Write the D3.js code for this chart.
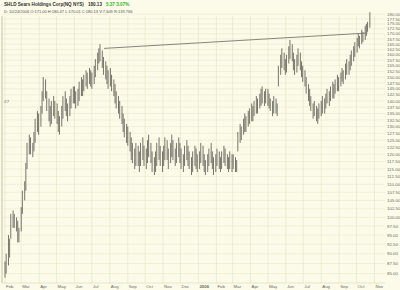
<!DOCTYPE html>
<html>
<head>
<meta charset="utf-8">
<script src="https://cdn.jsdelivr.net/npm/d3@7"></script>
<style>
  body { margin: 0; background: #fcfbea; }
  svg { display: block; font-family: "Liberation Sans", Arial, sans-serif; }
</style>
</head>
<body>
<div id="canvas"></div>
<script>
// SHLD daily range, one bar for every 2nd trading day, Feb 2005 - Oct 24 2006
var highs = [
  // Feb 05
  88, 90, 95, 94, 101, 102, 101, 100, 99, 97,
  // Mar
  103, 108, 111, 117, 124, 127, 126, 124, 128, 133, 136, 135,
  // Apr
  138, 144, 150, 149, 144, 141, 138, 140, 142, 140,
  // May
  139, 136, 134, 138, 142, 144, 141, 139, 142, 145, 146,
  // Jun
  146, 144, 145, 148, 150, 149, 151, 153, 152, 154, 153,
  // Jul
  152, 155, 158, 161, 163, 165, 162, 159, 157, 155, 153,
  // Aug
  154, 151, 149, 147, 144, 142, 140, 138, 135, 133, 131,
  // Sep
  130, 128, 126, 124, 122, 124, 123, 121, 124, 126, 123,
  // Oct
  122, 125, 127, 124, 121, 119, 121, 124, 126, 123, 121,
  // Nov
  123, 126, 125, 122, 124, 127, 125, 122, 124, 126, 124,
  // Dec
  122, 120, 123, 125, 123, 121, 119, 121, 123, 122, 120,
  // Jan 06
  121, 124, 123, 120, 118, 120, 122, 124, 121, 119, 120,
  // Feb
  122, 121, 119, 121, 123, 122, 120, 119, 121, 120,
  // Mar
  120, 119, 118, 128, 131, 130, 133, 135, 134, 136, 137,
  // Apr
  139, 138, 140, 142, 141, 143, 145, 146, 144, 145,
  // May
  145, 143, 141, 140, 142, 141, 139, 155, 160, 163, 161, 158,
  // Jun
  160, 164, 167, 165, 161, 158, 160, 163, 161, 157, 155,
  // Jul
  153, 150, 147, 145, 142, 139, 140, 138, 137, 139,
  // Aug
  140, 142, 141, 143, 145, 144, 146, 148, 147, 149, 151, 150,
  // Sep
  152, 154, 153, 156, 158, 157, 160, 162, 164, 166,
  // Oct
  168, 170, 169, 172, 171, 174, 175, 176, 181
];
var lows = [
  84, 85, 87, 89, 94, 97, 97, 96, 93, 93,
  96, 101, 105, 108, 115, 120, 120, 119, 121, 124, 128, 127,
  130, 135, 140, 141, 136, 132, 130, 131, 134, 133,
  131, 128, 127, 130, 133, 136, 134, 132, 134, 137, 139,
  139, 137, 138, 140, 142, 142, 144, 146, 145, 147, 146,
  145, 147, 150, 153, 156, 157, 154, 151, 149, 147, 145,
  146, 144, 142, 139, 137, 135, 133, 131, 128, 126, 124,
  123, 121, 118, 117, 115, 116, 116, 114, 116, 118, 116,
  115, 117, 119, 117, 114, 113, 114, 116, 118, 116, 114,
  116, 118, 118, 115, 117, 119, 118, 116, 117, 119, 117,
  115, 114, 116, 118, 116, 115, 113, 114, 116, 115, 114,
  115, 117, 116, 114, 113, 114, 116, 117, 115, 113, 114,
  116, 115, 114, 115, 117, 116, 115, 114, 115, 114,
  115, 114, 114, 121, 124, 125, 127, 128, 128, 130, 131,
  132, 132, 134, 135, 135, 137, 138, 139, 138, 139,
  138, 137, 136, 134, 135, 135, 134, 146, 151, 154, 153, 151,
  152, 156, 158, 157, 153, 151, 152, 155, 153, 150, 148,
  146, 143, 140, 138, 136, 133, 134, 132, 131, 133,
  134, 135, 135, 137, 139, 138, 140, 141, 141, 143, 144, 144,
  146, 148, 147, 149, 151, 151, 153, 155, 157, 159,
  161, 164, 163, 165, 166, 167, 169, 171, 173
];

// resistance line drawn on the chart
var trendDates = ["2005-07-22", "2006-10-20"];
var trendValues = [163.0, 170.4];

var monthTicks = ["2005-02-01","2005-03-01","2005-04-01","2005-05-01","2005-06-01","2005-07-01",
  "2005-08-01","2005-09-01","2005-10-01","2005-11-01","2005-12-01","2006-01-01","2006-02-01",
  "2006-03-01","2006-04-01","2006-05-01","2006-06-01","2006-07-01","2006-08-01","2006-09-01",
  "2006-10-01","2006-11-01"];
var monthLabels = ["Feb","Mar","Apr","May","Jun","Jul","Aug","Sep","Oct","Nov","Dec","2006",
  "Feb","Mar","Apr","May","Jun","Jul","Aug","Sep","Oct","Nov"];

var priceTicks = [];
for (var p = 85; p <= 180; p += 2.5) priceTicks.push(p);

var title = "SHLD Sears Holdings Corp(NQ NYS)";
var lastPrice = "180.13";
var change = "5.37  3.07%";
var subtitle = "D: 10/24/2006 O:171.00 H:180.47 L:170.01 C:180.13 V:7,609 R:139.766";

var w = 400, h = 290;
var parse = d3.timeParse("%Y-%m-%d");

// trading days, every second one gets a bar
var days = [];
for (var d = new Date(2005, 1, 1); d <= new Date(2006, 9, 24); d.setDate(d.getDate() + 1)) {
  if (d.getDay() != 0 && d.getDay() != 6) days.push(new Date(d));
}
var bars = [];
for (var i = 0; i < highs.length; i++) {
  bars.push({ date: days[i * 2], hi: highs[i], lo: lows[i] });
}

var plotL = 2, plotR = 385, plotT = 16, plotB = 283;

var x = d3.scaleTime()
  .domain([parse("2005-02-01"), parse("2006-11-01")])
  .range([5, 374.5]);

var y = d3.scaleLog()
  .domain([179, 82.7])
  .range([plotT, plotB]);

var paper = d3.select("#canvas")
  .append("svg")
  .attr("width", w)
  .attr("height", h);

paper.append("rect")
  .attr("width", w).attr("height", h)
  .attr("fill", "#fcfbea");

//grid
paper.selectAll(".hgrid")
  .data(priceTicks)
  .enter().append("line")
  .attr("x1", plotL).attr("x2", plotR)
  .attr("y1", function(d) { return y(d); })
  .attr("y2", function(d) { return y(d); })
  .style("stroke", "#ebe8c9")
  .style("stroke-width", "0.6px");

paper.selectAll(".vgrid")
  .data(monthTicks)
  .enter().append("line")
  .attr("x1", function(d) { return x(parse(d)); })
  .attr("x2", function(d) { return x(parse(d)); })
  .attr("y1", plotT).attr("y2", plotB)
  .style("stroke", "#e8e5c4")
  .style("stroke-width", "0.7px");

paper.append("line")
  .attr("x1", plotL).attr("x2", plotL)
  .attr("y1", plotT).attr("y2", plotB)
  .style("stroke", "#b9b69a").style("stroke-width", "0.8px");

paper.append("line")
  .attr("x1", plotL).attr("x2", plotR)
  .attr("y1", plotB).attr("y2", plotB)
  .style("stroke", "#d9d6b6").style("stroke-width", "0.6px");

//price bars
paper.selectAll(".bar")
  .data(bars)
  .enter().append("line")
  .attr("x1", function(d) { return x(d.date); })
  .attr("x2", function(d) { return x(d.date); })
  .attr("y1", function(d) { return y(d.hi); })
  .attr("y2", function(d) { return y(d.lo); })
  .style("stroke", "#4a4a42")
  .style("stroke-width", "0.75px");

//trend line
paper.append("line")
  .attr("x1", x(parse(trendDates[0])))
  .attr("y1", y(trendValues[0]))
  .attr("x2", x(parse(trendDates[1])))
  .attr("y2", y(trendValues[1]))
  .style("stroke", "#77776c")
  .style("stroke-width", "0.9px");

//right axis labels
paper.selectAll(".ylab")
  .data(priceTicks)
  .enter().append("text")
  .attr("x", 387)
  .attr("y", function(d) { return y(d) + 1.6; })
  .text(function(d) { return d.toFixed(2); })
  .style("font-size", "4.4px")
  .style("fill", "#6b6b60");

//month labels
paper.selectAll(".xlab")
  .data(monthTicks)
  .enter().append("text")
  .attr("x", function(d) { return x(parse(d)) + 1; })
  .attr("y", 288)
  .text(function(d, i) { return monthLabels[i]; })
  .style("font-size", "4.4px")
  .style("fill", "#6b6b60")
  .style("font-weight", function(d, i) { return monthLabels[i] == "2006" ? "bold" : "normal"; });

//header
var head = paper.append("text")
  .attr("x", 4).attr("y", 6)
  .style("font-size", "4.6px")
  .style("font-weight", "bold");
head.append("tspan").text(title).style("fill", "#333");
head.append("tspan").attr("dx", 4).text(lastPrice).style("fill", "#333");
head.append("tspan").attr("dx", 4).text(change).style("fill", "#2fb52f");

paper.append("text")
  .attr("x", 4).attr("y", 13)
  .text(subtitle)
  .style("font-size", "4px")
  .style("fill", "#555");

// small event marker on the left edge
paper.append("text")
  .attr("x", 4).attr("y", y(140) + 2)
  .text("Z7")
  .style("font-size", "4.4px")
  .style("fill", "#777");
</script>
</body>
</html>
